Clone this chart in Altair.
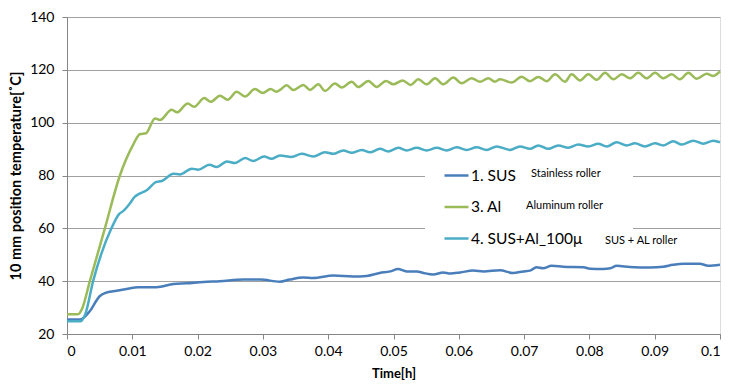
import altair as alt
import pandas as pd

series_names = ["1. SUS", "3. Al", "4. SUS+Al_100μ"]
series_colors = ["#4A7EBB", "#9BBB59", "#4BACC6"]
notes = ["Stainless roller", "Aluminum roller", "SUS + AL roller"]

t_sus = [0, 0.0020, 0.0035, 0.0050, 0.0058, 0.0076, 0.0091, 0.0109, 0.0137, 0.0163, 0.0183,
         0.0209, 0.0234, 0.0270, 0.0296, 0.0326, 0.0341, 0.0362, 0.0377, 0.0408, 0.0438,
         0.0459, 0.0479, 0.0495, 0.0507, 0.0520, 0.0536, 0.0546, 0.0561, 0.0576, 0.0587,
         0.0602, 0.0622, 0.0638, 0.0663, 0.0683, 0.0699, 0.0709, 0.0719, 0.0729, 0.0742,
         0.0760, 0.0791, 0.0801, 0.0821, 0.0832, 0.0842, 0.0862, 0.0893, 0.0913, 0.0928,
         0.0944, 0.0969, 0.0982, 0.1000]
v_sus = [25.5, 25.5, 28.7, 34.3, 35.5, 36.4, 37.0, 37.7, 37.7, 38.9, 39.2,
         39.7, 40.0, 40.6, 40.6, 39.8, 40.6, 41.4, 41.2, 42.1, 41.8,
         42.0, 43.1, 43.7, 44.6, 43.7, 43.7, 43.1, 42.5, 43.3, 42.9,
         43.3, 44.0, 43.7, 44.1, 43.1, 43.7, 44.0, 45.3, 44.9, 45.8,
         45.5, 45.3, 44.7, 44.6, 44.9, 45.8, 45.4, 45.2, 45.5, 46.2,
         46.6, 46.6, 45.8, 46.2]

t_al = [0, 0.0017, 0.0023, 0.0035, 0.0058, 0.0081, 0.0100, 0.0112, 0.0121,
        0.01348, 0.01424, 0.01603, 0.01685, 0.01848, 0.01945, 0.02103, 0.02201,
        0.02343, 0.02461, 0.02599, 0.02726, 0.02879, 0.02997, 0.03119, 0.03211,
        0.03262, 0.03364, 0.03466, 0.03619, 0.03721, 0.03849, 0.03951, 0.04104,
        0.04206, 0.04360, 0.04461, 0.04614, 0.04742, 0.04885, 0.04997, 0.05141,
        0.05263, 0.05380, 0.05508, 0.05636, 0.05763, 0.05916, 0.06044, 0.06197,
        0.06325, 0.06452, 0.06554, 0.06631, 0.06810, 0.06963, 0.07090, 0.07218,
        0.07346, 0.07473, 0.07626, 0.07729, 0.07856, 0.07983, 0.08112, 0.08239,
        0.08366, 0.08495, 0.08622, 0.08749, 0.08877, 0.09005, 0.09132, 0.09260,
        0.09387, 0.09515, 0.09643, 0.09796, 0.09898, 0.1000]
v_al = [27.5, 27.5, 29.5, 40.0, 60.0, 80.0, 91.0, 95.7, 96.0,
        101.6, 101.0, 104.9, 103.9, 107.3, 106.0, 109.3, 107.9,
        110.2, 108.7, 111.7, 109.9, 112.7, 111.2, 112.7, 111.7,
        112.4, 114.2, 112.4, 114.3, 112.4, 114.5, 112.0, 114.8,
        113.3, 115.5, 113.5, 115.8, 113.5, 115.8, 114.5, 116.0,
        114.3, 116.4, 114.5, 116.8, 114.5, 117.1, 114.9, 116.8,
        115.5, 116.8, 115.5, 116.4, 115.2, 117.4, 115.7, 117.3,
        115.7, 118.3, 115.5, 118.3, 116.0, 118.3, 116.2, 118.9,
        116.4, 118.3, 116.8, 118.9, 116.8, 118.9, 116.8, 118.3,
        116.4, 118.9, 116.6, 118.5, 117.7, 119.4]

t_mix = [0, 0.0020, 0.0028, 0.0040, 0.0068, 0.0080, 0.0086, 0.0095, 0.0104, 0.0112,
         0.0122, 0.0137, 0.0145, 0.0163, 0.0173, 0.0191, 0.0201, 0.0218, 0.0229, 0.0245,
         0.0257, 0.0273, 0.0285, 0.0302, 0.0313, 0.03262, 0.03441, 0.03594, 0.03772,
         0.03951, 0.04078, 0.04231, 0.04360, 0.04513, 0.04640, 0.04793, 0.04920, 0.05074,
         0.05202, 0.05355, 0.05508, 0.05662, 0.05815, 0.05968, 0.06121, 0.06274, 0.06427,
         0.06580, 0.06784, 0.06937, 0.07090, 0.07218, 0.07371, 0.07524, 0.07677, 0.07830,
         0.07983, 0.08136, 0.08265, 0.08418, 0.08571, 0.08698, 0.08851, 0.09005, 0.09132,
         0.09285, 0.09413, 0.09591, 0.09744, 0.09898, 0.1000]
v_mix = [24.8, 24.8, 27.5, 40.0, 60.0, 65.5, 66.5, 69.0, 72.0, 73.2,
         74.4, 77.6, 77.9, 80.7, 80.4, 82.6, 82.2, 84.1, 83.2, 85.3,
         84.7, 86.6, 85.5, 87.2, 86.3, 87.6, 87.0, 88.2, 87.2,
         88.8, 88.2, 89.5, 88.6, 89.7, 88.8, 90.1, 89.1, 90.5,
         89.5, 90.5, 89.5, 90.5, 89.5, 90.7, 89.7, 90.7, 89.7,
         91.0, 89.7, 91.0, 90.1, 91.4, 90.1, 91.4, 90.5, 91.7,
         91.0, 92.0, 91.0, 92.6, 91.4, 92.2, 91.0, 92.2, 91.4,
         93.0, 91.7, 93.2, 92.0, 93.2, 92.6]

x_ticks = [0, 0.01, 0.02, 0.03, 0.04, 0.05, 0.06, 0.07, 0.08, 0.09, 0.1]
y_ticks = [20, 40, 60, 80, 100, 120, 140]

rows = []
for name, ts, vs in zip(series_names, [t_sus, t_al, t_mix], [v_sus, v_al, v_mix]):
    for i, (t, v) in enumerate(zip(ts, vs)):
        rows.append({"series": name, "t": t, "v": v, "order": i})
df = pd.DataFrame(rows)

FONT = "Lato"
W, H = 653, 317

lines = alt.Chart(df).mark_line(strokeWidth=2.5, interpolate="monotone").encode(
    x=alt.X("t:Q", scale=alt.Scale(domain=[0, 0.1], nice=False),
            axis=alt.Axis(values=x_ticks, title="Time[h]", grid=False,
                          labelExpr="format(datum.value, '~g')",
                          domainColor="#868686", tickColor="#868686", tickSize=5,
                          labelFontSize=14, labelColor="#000", labelPadding=5,
                          titleFontSize=13, titleFontWeight="bold", titleColor="#000",
                          titlePadding=9, labelFont=FONT, titleFont=FONT)),
    y=alt.Y("v:Q", scale=alt.Scale(domain=[20, 140], nice=False),
            axis=alt.Axis(values=y_ticks, title="10 mm position temperature[˚C]",
                          grid=True, gridColor="#A0A0A0", gridWidth=1,
                          domainColor="#868686", tickColor="#868686", tickSize=5,
                          labelFontSize=14, labelColor="#000", labelPadding=8,
                          titleFontSize=14.5, titleFontWeight="bold", titleColor="#000",
                          titlePadding=6, labelFont=FONT, titleFont=FONT)),
    color=alt.Color("series:N", sort=series_names,
                    scale=alt.Scale(domain=series_names, range=series_colors),
                    legend=alt.Legend(title=None, orient="none", legendX=376, legendY=145,
                                      symbolType="stroke", symbolSize=576,
                                      symbolStrokeWidth=2.5, labelFontSize=15.5,
                                      labelFont=FONT, labelColor="#000", labelOffset=1,
                                      rowPadding=9.5, padding=0)),
    order="order:Q",
)

box = alt.Chart(pd.DataFrame({"a": [0]})).mark_rect(color="white").encode(
    x=alt.value(358), x2=alt.value(566), y=alt.value(139), y2=alt.value(242))

note_layers = [
    alt.Chart(pd.DataFrame({"note": [n]})).mark_text(
        align="left", baseline="middle", fontSize=11, font=FONT, color="#000"
    ).encode(text="note:N", x=alt.value(px), y=alt.value(py))
    for n, px, py in zip(notes, [464, 459, 538], [157, 189, 224])
]

chart = alt.layer(box, lines, *note_layers).properties(
    width=W, height=H,
    autosize=alt.AutoSizeParams(type="none"),
    padding={"left": 59, "top": 9, "right": 2, "bottom": 50},
).configure_view(stroke=None).configure(background="white")

chart.save("out.html", embed_options={"renderer": "svg", "actions": False})
